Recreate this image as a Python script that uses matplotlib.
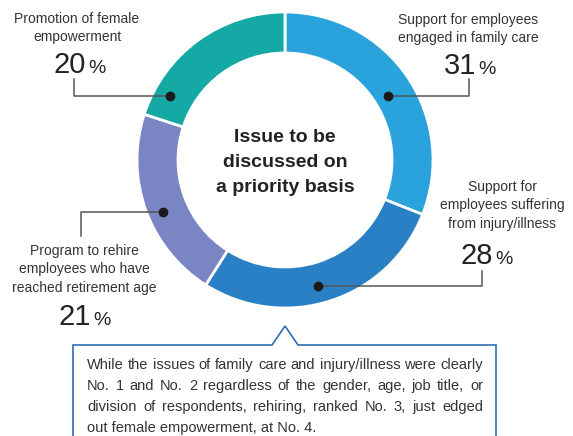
import matplotlib
matplotlib.use('Agg')
from matplotlib import pyplot as plt
from matplotlib.patches import Polygon

# Data
labels = [['Support for employees', 'engaged in family care'],
          ['Support for', 'employees suffering', 'from injury/illness'],
          ['Program to rehire', 'employees who have', 'reached retirement age'],
          ['Promotion of female', 'empowerment']]
shares = [31, 28, 21, 20]
colors = ['#2aa3dc', '#2a80c5', '#7a86c4', '#14a9a4']
note_lines = ['While the issues of family care and injury/illness were clearly',
              'No. 1 and No. 2 regardless of the gender, age, job title, or',
              'division of respondents, rehiring, ranked No. 3, just edged',
              'out female empowerment, at No. 4.']

H = 436
plt.rcParams['font.family'] = ['Liberation Sans', 'DejaVu Sans']

fig = plt.figure(figsize=(5.73, 4.36), dpi=100)
ax = fig.add_axes([0, 0, 1, 1])

cx, cy, R = 285, H - 160, 148
ax.pie(shares, colors=colors, startangle=90, counterclock=False,
       center=(cx, cy), radius=R, frame=True,
       wedgeprops=dict(width=41, edgecolor='white', linewidth=2))
ax.set_xlim(0, 573)
ax.set_ylim(0, H)
ax.set_aspect('equal')
ax.axis('off')

for s, base in zip(['Issue to be', 'discussed on', 'a priority basis'], [142, 167, 192]):
    ax.text(cx, H - base, s, ha='center', va='baseline', fontsize=14,
            fontweight='bold', color='#222222')

line_kw = dict(color='#555555', lw=1.1, zorder=5)
dot_kw = dict(marker='o', ms=6, color='#1a1a1a', zorder=6)

# leader lines: dot, corner, end
leaders = [
    [(388, 96), (469, 96), (469, 79)],
    [(318, 286), (482, 286), (482, 271)],
    [(163, 212), (81, 212), (81, 236)],
    [(170, 96), (74, 96), (74, 79)],
]
for pts in leaders:
    xs = [p[0] for p in pts]
    ys = [H - p[1] for p in pts]
    ax.plot(xs, ys, **line_kw)
    ax.plot(xs[0], ys[0], **dot_kw)

# label center x, first baseline y, number right x, number baseline y
label_pos = [(468, 24, 476, 74), (502, 191, 493, 264), (84, 255, 91, 325), (77, 23, 86, 73)]
for lab, val, (lx, by, nx, ny) in zip(labels, shares, label_pos):
    for i, s in enumerate(lab):
        ax.text(lx, H - (by + 18.5 * i), s, ha='center', va='baseline',
                fontsize=10, color='#333333')
    ax.text(nx, H - ny, str(val), ha='right', va='baseline', fontsize=21,
            color='#222222')
    ax.text(nx + 2, H - ny, '%', ha='left', va='baseline', fontsize=14,
            color='#222222')

# callout box with pointer
bc = '#2e6db4'
box = [(73, -5), (73, H - 345), (272, H - 345), (285, H - 326), (298, H - 345),
       (496, H - 345), (496, -5)]
ax.add_patch(Polygon(box, closed=False, fill=False, edgecolor=bc, lw=1.2))

# justified note text
renderer = fig.canvas.get_renderer()
left, right = 87, 483
note_kw = dict(ha='left', va='baseline', fontsize=10.5, color='#333333')
for i, line in enumerate(note_lines):
    y = H - (369 + 21 * i)
    words = line.split()
    if i == len(note_lines) - 1:
        ax.text(left, y, line, **note_kw)
        continue
    arts = [ax.text(0, y, w, **note_kw) for w in words]
    widths = [a.get_window_extent(renderer).width for a in arts]
    gap = (right - left - sum(widths)) / (len(words) - 1)
    x = left
    for a, w in zip(arts, widths):
        a.set_x(x)
        x += w + gap

fig.savefig('out.png', dpi=100)
